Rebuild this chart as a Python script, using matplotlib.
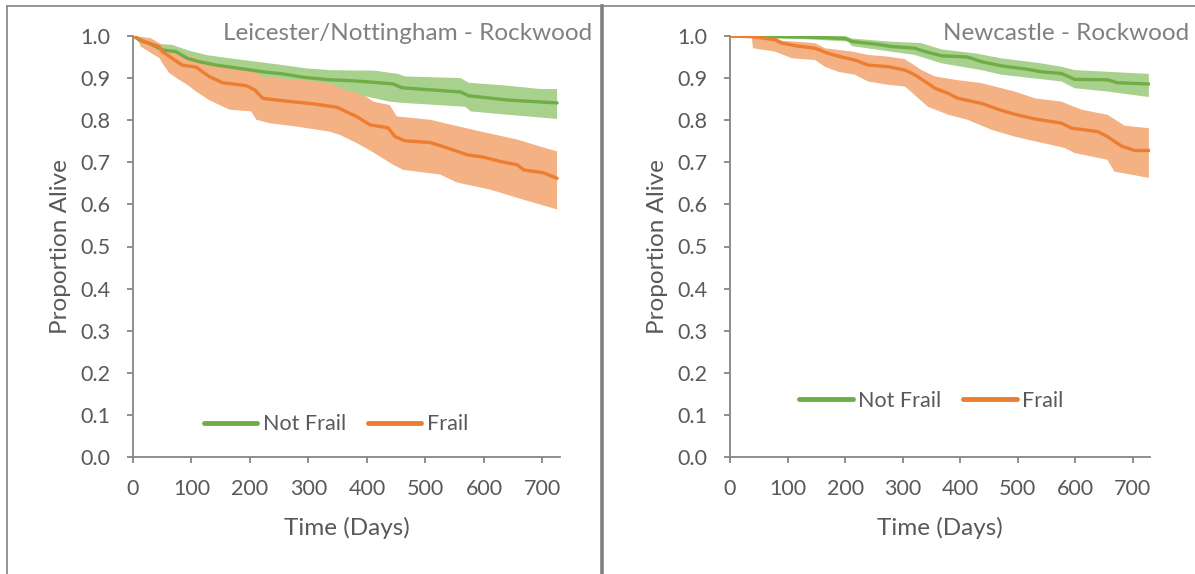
import numpy as np
import matplotlib
matplotlib.use("Agg")
import matplotlib.pyplot as plt
from matplotlib.lines import Line2D

plt.rcParams['font.family'] = ['Lato', 'DejaVu Sans']

# ---------------- data: Leicester/Nottingham ----------------
L_nf_days = [0, 16, 27, 50, 73, 93, 113, 142, 182, 222, 256, 291, 336, 371, 411, 445, 460, 560, 574, 640, 725]
L_nf_vals = [1.0, 0.987, 0.983, 0.967, 0.963, 0.947, 0.939, 0.931, 0.923, 0.915, 0.910, 0.902, 0.896, 0.894, 0.890, 0.886, 0.877, 0.867, 0.858, 0.848, 0.841]
L_nf_up_days = [0, 20, 45, 67, 96, 125, 165, 211, 256, 297, 336, 376, 411, 453, 465, 560, 574, 640, 697, 725]
L_nf_up_vals = [1.0, 0.995, 0.981, 0.979, 0.965, 0.955, 0.947, 0.939, 0.931, 0.923, 0.919, 0.918, 0.918, 0.910, 0.904, 0.900, 0.889, 0.882, 0.874, 0.874]
L_nf_lo_days = [0, 16, 50, 93, 142, 222, 291, 371, 400, 439, 462, 568, 577, 640, 725]
L_nf_lo_vals = [1.0, 0.975, 0.952, 0.928, 0.908, 0.890, 0.874, 0.862, 0.856, 0.844, 0.841, 0.832, 0.821, 0.813, 0.803]

L_fr_days = [0, 19, 36, 45, 50, 67, 84, 108, 130, 153, 194, 208, 222, 251, 307, 348, 382, 405, 436, 448, 465, 508, 542, 571, 600, 628, 657, 668, 702, 725]
L_fr_vals = [1.0, 0.987, 0.979, 0.975, 0.963, 0.947, 0.931, 0.926, 0.904, 0.889, 0.882, 0.872, 0.852, 0.847, 0.839, 0.831, 0.809, 0.789, 0.782, 0.761, 0.751, 0.747, 0.732, 0.718, 0.712, 0.702, 0.694, 0.682, 0.675, 0.662]
L_fr_up_days = [0, 30, 45, 56, 91, 119, 142, 176, 211, 222, 290, 336, 354, 396, 411, 439, 451, 508, 582, 657, 702, 725]
L_fr_up_vals = [1.0, 0.995, 0.983, 0.967, 0.955, 0.943, 0.935, 0.927, 0.912, 0.903, 0.895, 0.888, 0.876, 0.858, 0.844, 0.836, 0.809, 0.801, 0.777, 0.754, 0.735, 0.726]
L_fr_lo_days = [0, 10, 13, 36, 45, 50, 62, 79, 93, 108, 130, 148, 165, 202, 211, 233, 279, 336, 354, 382, 408, 445, 462, 525, 554, 611, 668, 725]
L_fr_lo_vals = [1.0, 0.99, 0.975, 0.955, 0.948, 0.936, 0.912, 0.896, 0.884, 0.868, 0.848, 0.836, 0.825, 0.821, 0.801, 0.793, 0.785, 0.773, 0.765, 0.746, 0.726, 0.694, 0.682, 0.671, 0.652, 0.635, 0.611, 0.588]

# ---------------- data: Newcastle ----------------
N_nf_days = [0, 90, 148, 200, 212, 252, 281, 321, 339, 368, 413, 437, 472, 517, 541, 576, 599, 656, 673, 728]
N_nf_vals = [1.0, 0.998, 0.997, 0.994, 0.987, 0.981, 0.975, 0.971, 0.963, 0.953, 0.950, 0.939, 0.929, 0.921, 0.915, 0.911, 0.897, 0.896, 0.889, 0.886]
N_nf_up_days = [0, 200, 212, 275, 333, 368, 425, 472, 541, 576, 599, 656, 728]
N_nf_up_vals = [1.0, 1.0, 0.994, 0.987, 0.983, 0.968, 0.959, 0.947, 0.935, 0.927, 0.919, 0.915, 0.910]
N_nf_lo_days = [0, 90, 148, 205, 212, 321, 368, 437, 472, 576, 599, 656, 728]
N_nf_lo_vals = [1.0, 0.995, 0.991, 0.987, 0.976, 0.955, 0.935, 0.919, 0.908, 0.892, 0.876, 0.868, 0.855]

N_fr_days = [0, 43, 78, 90, 118, 148, 170, 194, 217, 240, 275, 304, 321, 339, 356, 379, 396, 437, 466, 495, 530, 576, 594, 639, 656, 680, 703, 728]
N_fr_vals = [1.0, 0.998, 0.991, 0.983, 0.976, 0.971, 0.959, 0.950, 0.943, 0.931, 0.927, 0.919, 0.908, 0.892, 0.876, 0.864, 0.852, 0.840, 0.826, 0.814, 0.803, 0.793, 0.781, 0.773, 0.761, 0.739, 0.728, 0.728]
N_fr_up_days = [0, 78, 90, 148, 165, 212, 240, 275, 304, 333, 356, 391, 437, 495, 530, 576, 611, 656, 686, 728]
N_fr_up_vals = [1.0, 0.997, 0.989, 0.983, 0.971, 0.963, 0.955, 0.951, 0.945, 0.919, 0.904, 0.896, 0.888, 0.868, 0.852, 0.844, 0.825, 0.813, 0.787, 0.781]
N_fr_lo_days = [0, 38, 40, 78, 108, 148, 165, 188, 217, 240, 275, 304, 321, 344, 379, 413, 455, 495, 530, 582, 599, 656, 668, 728]
N_fr_lo_vals = [1.0, 0.995, 0.971, 0.963, 0.947, 0.943, 0.927, 0.915, 0.908, 0.892, 0.884, 0.880, 0.860, 0.832, 0.813, 0.801, 0.777, 0.761, 0.750, 0.734, 0.722, 0.706, 0.678, 0.663]

titles = ["Leicester/Nottingham - Rockwood", "Newcastle - Rockwood"]
series_labels = ["Not Frail", "Frail"]
x_ticks = [0, 100, 200, 300, 400, 500, 600, 700]
y_ticks = [0.0, 0.1, 0.2, 0.3, 0.4, 0.5, 0.6, 0.7, 0.8, 0.9, 1.0]

GREEN = "#70AD47"
GREEN_BAND = "#A9D18E"
ORANGE = "#ED7D31"
ORANGE_BAND = "#F4B183"
TXT = "#595959"
AXC = "#868686"

fig = plt.figure(figsize=(11.95, 5.74), dpi=100)

axes_rects = [
    [133 / 1195, 117 / 574, 427 / 1195, 421 / 574],
    [730 / 1195, 117 / 574, 420 / 1195, 421 / 574],
]
panels = [
    dict(nf=(L_nf_days, L_nf_vals), nf_up=(L_nf_up_days, L_nf_up_vals), nf_lo=(L_nf_lo_days, L_nf_lo_vals),
         fr=(L_fr_days, L_fr_vals), fr_up=(L_fr_up_days, L_fr_up_vals), fr_lo=(L_fr_lo_days, L_fr_lo_vals),
         title_x=(592 - 133) / 427, leg=(0.475, 0.078)),
    dict(nf=(N_nf_days, N_nf_vals), nf_up=(N_nf_up_days, N_nf_up_vals), nf_lo=(N_nf_lo_days, N_nf_lo_vals),
         fr=(N_fr_days, N_fr_vals), fr_up=(N_fr_up_days, N_fr_up_vals), fr_lo=(N_fr_lo_days, N_fr_lo_vals),
         title_x=(1189 - 730) / 420, leg=(0.479, 0.133)),
]


def band(ax, up, lo, color, z):
    ud, uv = np.asarray(up[0]), np.asarray(up[1])
    ld, lv = np.asarray(lo[0]), np.asarray(lo[1])
    ax.fill(np.r_[ud, ld[::-1]], np.r_[uv, lv[::-1]], color=color, lw=0, zorder=z)


for i, (rect, p) in enumerate(zip(axes_rects, panels)):
    ax = fig.add_axes(rect)
    band(ax, p['nf_up'], p['nf_lo'], GREEN_BAND, 1)
    band(ax, p['fr_up'], p['fr_lo'], ORANGE_BAND, 2)
    ax.plot(p['nf'][0], p['nf'][1], color=GREEN, lw=2.4, zorder=3, label=series_labels[0],
            solid_capstyle='round')
    ax.plot(p['fr'][0], p['fr'][1], color=ORANGE, lw=2.4, zorder=4, label=series_labels[1],
            solid_capstyle='round')

    ax.set_xlim(0, 730)
    ax.set_ylim(0, 1.0)
    ax.set_xticks(x_ticks)
    ax.set_yticks(y_ticks)
    ax.set_yticklabels([f"{v:.1f}" for v in y_ticks])
    for s in ['top', 'right']:
        ax.spines[s].set_visible(False)
    for s in ['left', 'bottom']:
        ax.spines[s].set_color(AXC)
        ax.spines[s].set_linewidth(1.3)
    ax.tick_params(axis='both', colors=AXC, labelcolor=TXT, labelsize=15.5, length=4, width=1.3)
    ax.tick_params(axis='x', pad=12)
    ax.tick_params(axis='y', pad=12)
    ax.set_xlabel("Time (Days)", fontsize=17.5, color=TXT, labelpad=13)
    ax.set_ylabel("Proportion Alive", fontsize=17.5, color=TXT, labelpad=7)
    ax.patch.set_alpha(0)

    ax.text(p['title_x'], 1.007, titles[i], transform=ax.transAxes, ha='right', va='center',
            fontsize=17.5, color="#808080", clip_on=False)

    leg = ax.legend(loc='center', bbox_to_anchor=p['leg'], ncol=2, frameon=False, fontsize=15.5,
                    handlelength=2.5, handletextpad=0.25, columnspacing=1.0, labelcolor=TXT)
    for h in leg.legend_handles:
        h.set_linewidth(3.5)

# figure frame lines
fig.add_artist(Line2D([7 / 1195, 1.0], [1 - 6 / 574, 1 - 6 / 574], color="#8C8C8C", lw=1.3,
                      transform=fig.transFigure))
fig.add_artist(Line2D([7 / 1195, 7 / 1195], [0, 1 - 6 / 574], color="#8C8C8C", lw=1.3,
                      transform=fig.transFigure))
fig.add_artist(Line2D([602 / 1195, 602 / 1195], [0, 1 - 6 / 574], color="#808080", lw=2.6,
                      transform=fig.transFigure))

fig.savefig("out.png", dpi=100)
